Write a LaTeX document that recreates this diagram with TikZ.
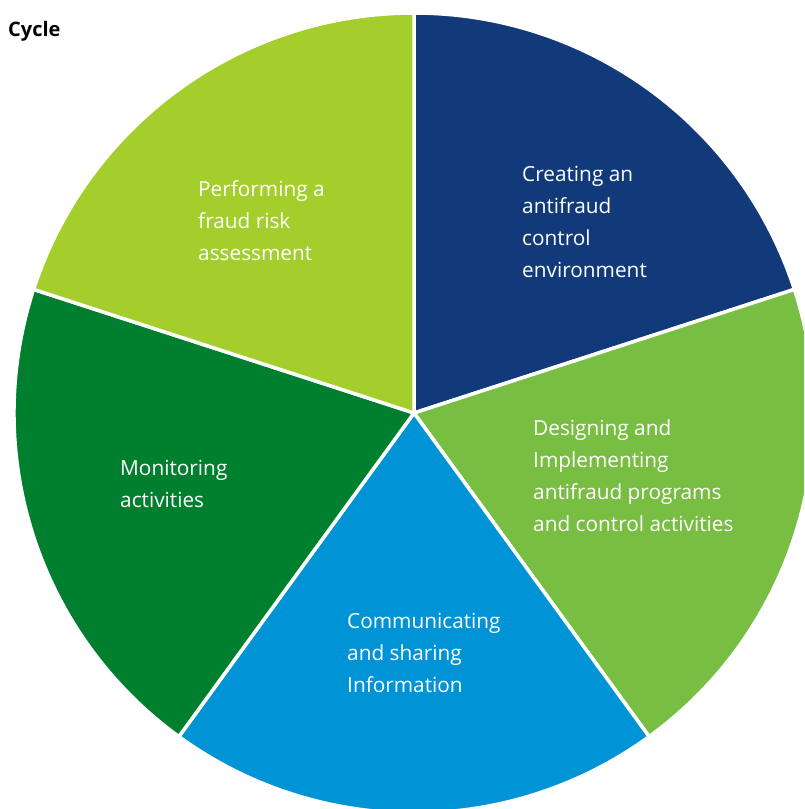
\documentclass[tikz,border=0pt]{standalone}
\usepackage{fontspec}
\setmainfont{Open Sans}
\usetikzlibrary{positioning}

\definecolor{NavyBlue}{HTML}{123A7A}
\definecolor{LeafGreen}{HTML}{78BE43}
\definecolor{SkyBlue}{HTML}{0094D6}
\definecolor{ForestGreen}{HTML}{007F2F}
\definecolor{LimeGreen}{HTML}{A4CE2C}

\begin{document}
\begin{tikzpicture}[x=1pt,y=1pt,%
  SliceStyle/.style={draw=white,line width=3.5pt,line join=round},
  LabelStyle/.style={text=white,align=left,anchor=base west,inner sep=0pt,
    font=\fontsize{20.8}{32}\selectfont}]
  \useasboundingbox (0,0) rectangle (804,809);
  \clip (0,0) rectangle (804,809);
  \coordinate (c) at (414,396);                  % centre of the pie
  \begin{scope}[shift={(c)}]
    \filldraw[SliceStyle,fill=NavyBlue]    (0,0) -- (18:400)  arc[start angle=18,  end angle=90,  radius=400pt] -- cycle;
    \filldraw[SliceStyle,fill=LeafGreen]   (0,0) -- (-54:400) arc[start angle=-54, end angle=18,  radius=400pt] -- cycle;
    \filldraw[SliceStyle,fill=SkyBlue]     (0,0) -- (-126:400) arc[start angle=-126,end angle=-54, radius=400pt] -- cycle;
    \filldraw[SliceStyle,fill=ForestGreen] (0,0) -- (162:400) arc[start angle=162, end angle=234, radius=400pt] -- cycle;
    \filldraw[SliceStyle,fill=LimeGreen]   (0,0) -- (90:400)  arc[start angle=90,  end angle=162, radius=400pt] -- cycle;
  \end{scope}
  % slice labels, placed at the baseline of their last line
  \node[LabelStyle] (env)  at (522,531) {Creating an\\antifraud\\control\\environment};
  \node[LabelStyle] (prog) at (533,277) {Designing and\\Implementing\\antifraud programs\\and control activities};
  \node[LabelStyle] (info) at (347,116) {Communicating\\and sharing\\Information};
  \node[LabelStyle] (mon)  at (120,301) {Monitoring\\activities};
  \node[LabelStyle] (risk) at (198,548) {Performing a\\fraud risk\\assessment};
  % heading
  \node[anchor=base west,inner sep=0pt,font=\fontsize{20}{22}\selectfont\bfseries] (head) at (8,772) {Cycle};
\end{tikzpicture}
\end{document}
